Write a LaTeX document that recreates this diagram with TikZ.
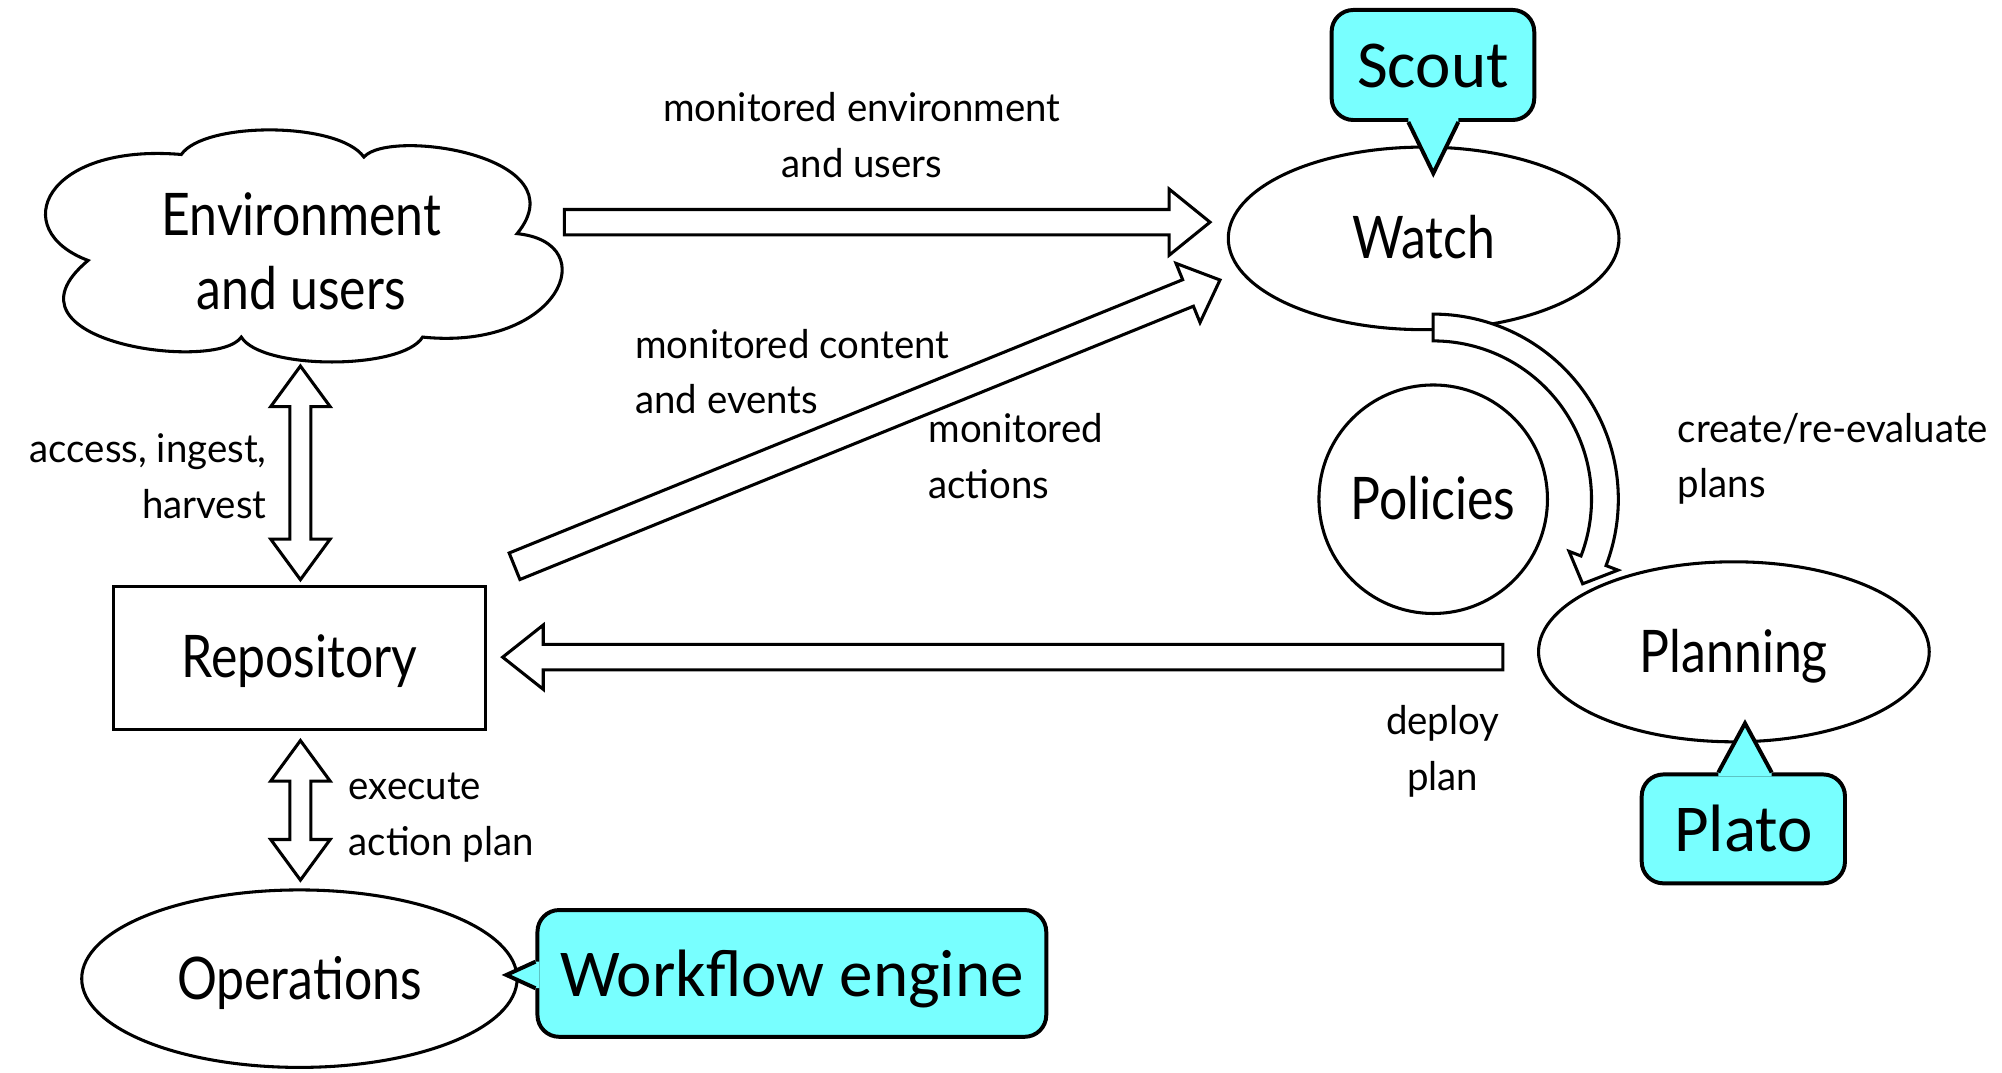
\documentclass[tikz,border=0pt]{standalone}
\usepackage{fontspec}
\setmainfont{Lato}[FakeStretch=0.85]
\newfontfamily\smallfam{Lato}[FakeStretch=0.97]
\newfontfamily\calloutfont{Carlito}
\usetikzlibrary{shapes.geometric,calc}
\definecolor{callcyan}{RGB}{120,255,255}
\newcommand{\bigfont}{\fontsize{46}{58}\selectfont}
\newcommand{\smallfont}{\smallfam\fontsize{31}{43.5}\selectfont}
% block arrow: #1 start, #2 tip, #3 shaft half width, #4 head half width, #5 head length
\newcommand{\blockarrow}[5]{%
 \draw[blk] ($(#1)!#3!90:(#2)$) -- ($(#2)!#5!(#1)!#3!-90:(#1)$) -- ($(#2)!#5!(#1)!#4!-90:(#1)$) -- (#2)
   -- ($(#2)!#5!(#1)!#4!90:(#1)$) -- ($(#2)!#5!(#1)!#3!90:(#1)$) -- ($(#1)!#3!-90:(#2)$) -- cycle;}
\newcommand{\dblarrow}[5]{%
 \draw[blk] (#1) -- ($(#1)!#5!(#2)!#4!90:(#2)$) -- ($(#1)!#5!(#2)!#3!90:(#2)$) -- ($(#2)!#5!(#1)!#3!-90:(#1)$)
   -- ($(#2)!#5!(#1)!#4!-90:(#1)$) -- (#2) -- ($(#2)!#5!(#1)!#4!90:(#1)$) -- ($(#2)!#5!(#1)!#3!90:(#1)$)
   -- ($(#1)!#5!(#2)!#3!-90:(#2)$) -- ($(#1)!#5!(#2)!#4!-90:(#2)$) -- cycle;}
\tikzset{
  outl/.style={draw, line width=2.4pt},
  bigtext/.style={font=\bigfont, inner sep=0pt, align=center, text height=32pt, text depth=0pt},
  lbl/.style={font=\smallfont, inner sep=0pt},
  blk/.style={draw, line width=2.4pt, line join=miter, fill=white},
  cloudline/.style={draw, line width=2.4pt, line join=miter},
  callbox/.style={draw, line width=3.1pt, fill=callcyan, rounded corners=17pt, inner sep=0pt,
     font=\calloutfont\fontsize{52.5}{60}\selectfont, text height=36pt, text depth=0pt},
  callptr/.style={fill=callcyan},
  callptrline/.style={line width=3.1pt, line join=miter},
}
\begin{document}
\begin{tikzpicture}[x=1pt,y=-1pt]
\useasboundingbox (0,0) rectangle (1568,840);

% cloud: Environment and users
\node[font=\bigfont, inner sep=0pt, align=center] (env) at (236,197) {Environment\\and users};
\coordinate (n1) at (142,121); \coordinate (n2) at (285,123); \coordinate (n3) at (405,183);
\coordinate (n4) at (331,264); \coordinate (n5) at (189,264); \coordinate (n6) at (69,204);
\draw[cloudline] (n6) .. controls (5,180) and (35,112) .. (n1)
  .. controls (160,95) and (265,95) .. (n2)
  .. controls (305,100) and (455,122) .. (n3)
  .. controls (474,190) and (438,275) .. (n4)
  .. controls (315,290) and (205,290) .. (n5)
  .. controls (170,292) and (-8,268) .. cycle;

% main nodes
\node[ellipse, outl, bigtext, minimum width=306pt, minimum height=143pt] (watch) at (1115,186.7) {Watch};
\node[circle, outl, bigtext, minimum size=179pt] (pol) at (1122.5,391) {Policies};
\node[ellipse, outl, bigtext, minimum width=306pt, minimum height=141pt] (plan) at (1358,510.5) {Planning};
\node[rectangle, outl, bigtext, minimum width=291pt, minimum height=112pt] (repo) at (234.5,515) {Repository};
\node[ellipse, outl, bigtext, minimum width=341pt, minimum height=139pt] (ops) at (234.5,766.5) {Operations};

% labels (anchor base = baseline of the last line)
\node[lbl, align=center, anchor=base] (lab1) at (675,139) {monitored environment\\and users};
\node[lbl, align=left, anchor=base west] (lab2) at (497.4,324.2) {monitored content\\and events};
\node[lbl, align=left, anchor=base west] (lab3) at (727,390.3) {monitored\\actions};
\node[lbl, align=right, anchor=base east] (lab4) at (209,406) {access, ingest,\\harvest};
\node[lbl, align=left, anchor=base west] (lab5) at (273,670) {execute\\action plan};
\node[lbl, align=left, anchor=base west] (lab6) at (1314,390) {create/re-evaluate\\plans};
\node[lbl, align=center, anchor=base] (lab7) at (1130,619) {deploy\\plan};

% arrow end points
\coordinate (a1s) at (442,174);   \coordinate (a1t) at (947.7,174);
\coordinate (a2s) at (403,443.5); \coordinate (a2t) at (955.5,219.3);
\coordinate (a3s) at (1177,514.7); \coordinate (a3t) at (393.7,514.7);
\coordinate (a4s) at (235.3,286.7); \coordinate (a4t) at (235.3,454);
\coordinate (a5s) at (235.3,580); \coordinate (a5t) at (235.3,689.3);

\blockarrow{a1s}{a1t}{9.9pt}{25.9pt}{32pt}
\blockarrow{a2s}{a2t}{11.2pt}{25pt}{27pt}
\blockarrow{a3s}{a3t}{10pt}{25.2pt}{31.8pt}
\dblarrow{a4s}{a4t}{8.2pt}{23.3pt}{31.8pt}
\dblarrow{a5s}{a5t}{8.2pt}{23.3pt}{31.8pt}

% curved arrow Watch -> Planning around Policies
\draw[blk] plot[domain=-90:21, samples=80] ({1122.5+145*cos(\x)},{391+145*sin(\x)})
  -- ({1122.5+155*cos(21)},{391+155*sin(21)})
  -- ({1122.5+134.5*cos(29.5)},{391+134.5*sin(29.5)})
  -- ({1122.5+114*cos(21)},{391+114*sin(21)})
  -- ({1122.5+124*cos(21)},{391+124*sin(21)})
  -- plot[domain=21:-90, samples=80] ({1122.5+124*cos(\x)},{391+124*sin(\x)}) -- cycle;

% callouts
\node[callbox, minimum width=158.7pt, minimum height=86.2pt] (scout) at (1122.3,50.9) {Scout};
\coordinate (scoutTip) at (1122.6,135.7);
\fill[callptr] ($(scout.south)+(-19.3,-3)$) -- ($(scout.south)+(-19.3,0)$) -- (scoutTip) -- ($(scout.south)+(19.9,0)$) -- ($(scout.south)+(19.9,-3)$) -- cycle;
\draw[callptrline] ($(scout.south)+(-19.3,0)$) -- (scoutTip) -- ($(scout.south)+(19.9,0)$);

\node[callbox, minimum width=159.2pt, minimum height=85.3pt] (plato) at (1365.4,649.2) {Plato};
\coordinate (platoTip) at (1366.7,566.5);
\fill[callptr] ($(plato.north)+(-19.6,3)$) -- ($(plato.north)+(-19.6,0)$) -- (platoTip) -- ($(plato.north)+(22.2,0)$) -- ($(plato.north)+(22.2,3)$) -- cycle;
\draw[callptrline] ($(plato.north)+(-19.6,0)$) -- (platoTip) -- ($(plato.north)+(22.2,0)$);

\node[callbox, minimum width=398.5pt, minimum height=99.3pt] (wf) at (620.2,762.4) {Workflow engine};
\coordinate (wfTip) at (396.6,763.6);
\fill[callptr] ($(wf.west)+(3,-9.2)$) -- ($(wf.west)+(0,-9.2)$) -- (wfTip) -- ($(wf.west)+(0,11.6)$) -- ($(wf.west)+(3,11.6)$) -- cycle;
\draw[callptrline] ($(wf.west)+(0,-9.2)$) -- (wfTip) -- ($(wf.west)+(0,11.6)$);
\end{tikzpicture}
\end{document}
